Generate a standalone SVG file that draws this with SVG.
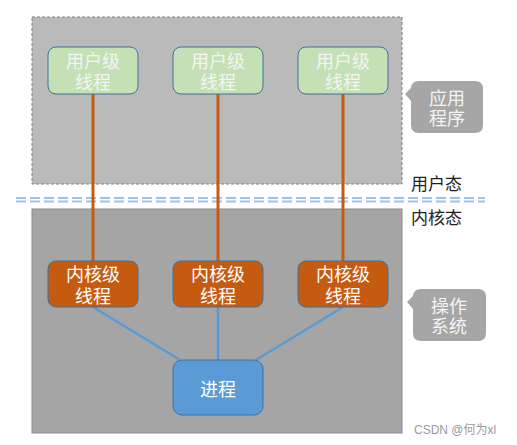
<svg xmlns="http://www.w3.org/2000/svg" width="517" height="445" viewBox="0 0 517 445">
<defs>
<style>
.t{font-family:"Noto Sans CJK SC","Noto Sans",sans-serif;text-anchor:middle;dominant-baseline:central}
.ut{font-size:18px;fill:#f4f4f4}
.kt{font-size:18px;fill:#ffffff}
.user{fill:#c5e0b4;stroke:#41719c;stroke-width:1}
.kern{fill:#c55a11;stroke:#41719c;stroke-width:1}
.proc{fill:#5b9bd5;stroke:#41719c;stroke-width:1}
.orange{stroke:#c55a11;stroke-width:3;fill:none}
.blue{stroke:#5b9bd5;stroke-width:2.5;fill:none}
.call{fill:#a6a6a6}
.ct{font-size:18px;fill:#f4f4f4}
.lab{font-family:"Noto Sans CJK SC","Noto Sans",sans-serif;font-size:17px;fill:#222}
</style>
</defs>
<rect width="517" height="445" fill="#ffffff"/>
<g id="app-region">
<rect x="32" y="17" width="370" height="167" fill="#bababa" stroke="#7f7f7f" stroke-width="1" stroke-dasharray="3,2"/>
</g>
<g id="kernel-region">
<rect x="32" y="209" width="370" height="224" fill="#a5a5a5" stroke="#8a8a8a" stroke-width="1"/>
</g>
<g id="boundary">
<line x1="16" y1="198" x2="485" y2="198" stroke="#9dc3e6" stroke-width="2" stroke-dasharray="10,4"/>
<line x1="16" y1="201.5" x2="485" y2="201.5" stroke="#9dc3e6" stroke-width="2" stroke-dasharray="10,4"/>
</g>
<g id="connectors">
<line class="orange" x1="93" y1="94" x2="93" y2="261"/>
<line class="orange" x1="218" y1="94" x2="218" y2="261"/>
<line class="orange" x1="343" y1="94" x2="343" y2="261"/>
<line class="blue" x1="93" y1="307" x2="180" y2="360"/>
<line class="blue" x1="218" y1="307" x2="218" y2="360"/>
<line class="blue" x1="343" y1="307" x2="256" y2="360"/>
</g>
<g id="user1"><rect class="user" x="48" y="47" width="90" height="47" rx="8"/><text class="t ut" x="93" y="60">用户级</text><text class="t ut" x="93" y="81">线程</text></g>
<g id="user2"><rect class="user" x="173" y="47" width="90" height="47" rx="8"/><text class="t ut" x="218" y="60">用户级</text><text class="t ut" x="218" y="81">线程</text></g>
<g id="user3"><rect class="user" x="298" y="47" width="90" height="47" rx="8"/><text class="t ut" x="343" y="60">用户级</text><text class="t ut" x="343" y="81">线程</text></g>
<g id="kern1"><rect class="kern" x="48" y="261" width="90" height="46" rx="8"/><text class="t kt" x="93" y="273">内核级</text><text class="t kt" x="93" y="295">线程</text></g>
<g id="kern2"><rect class="kern" x="173" y="261" width="90" height="46" rx="8"/><text class="t kt" x="218" y="273">内核级</text><text class="t kt" x="218" y="295">线程</text></g>
<g id="kern3"><rect class="kern" x="298" y="261" width="90" height="46" rx="8"/><text class="t kt" x="343" y="273">内核级</text><text class="t kt" x="343" y="295">线程</text></g>
<g id="process"><rect class="proc" x="173" y="360" width="90" height="55" rx="9"/><text class="t kt" x="218" y="388">进程</text></g>
<g id="callout-app">
<path class="call" d="M419,81 H475 Q483,81 483,89 V125 Q483,133 475,133 H419 Q411,133 411,125 V101 L405,94 L411,88 V89 Q411,81 419,81 Z"/>
<text class="t ct" x="447" y="97">应用</text><text class="t ct" x="447" y="117">程序</text>
</g>
<g id="callout-os">
<path class="call" d="M421,289 H478 Q486,289 486,297 V333 Q486,341 478,341 H421 Q413,341 413,333 V309 L407,302 L413,296 V297 Q413,289 421,289 Z"/>
<text class="t ct" x="449" y="305">操作</text><text class="t ct" x="449" y="325">系统</text>
</g>
<text class="lab" x="411" y="190">用户态</text>
<text class="lab" x="411" y="224">内核态</text>
<text x="414" y="434" font-family="'Liberation Sans','Noto Sans CJK SC',sans-serif" font-size="12" fill="#9a9a9a">CSDN @何为xl</text>
</svg>
